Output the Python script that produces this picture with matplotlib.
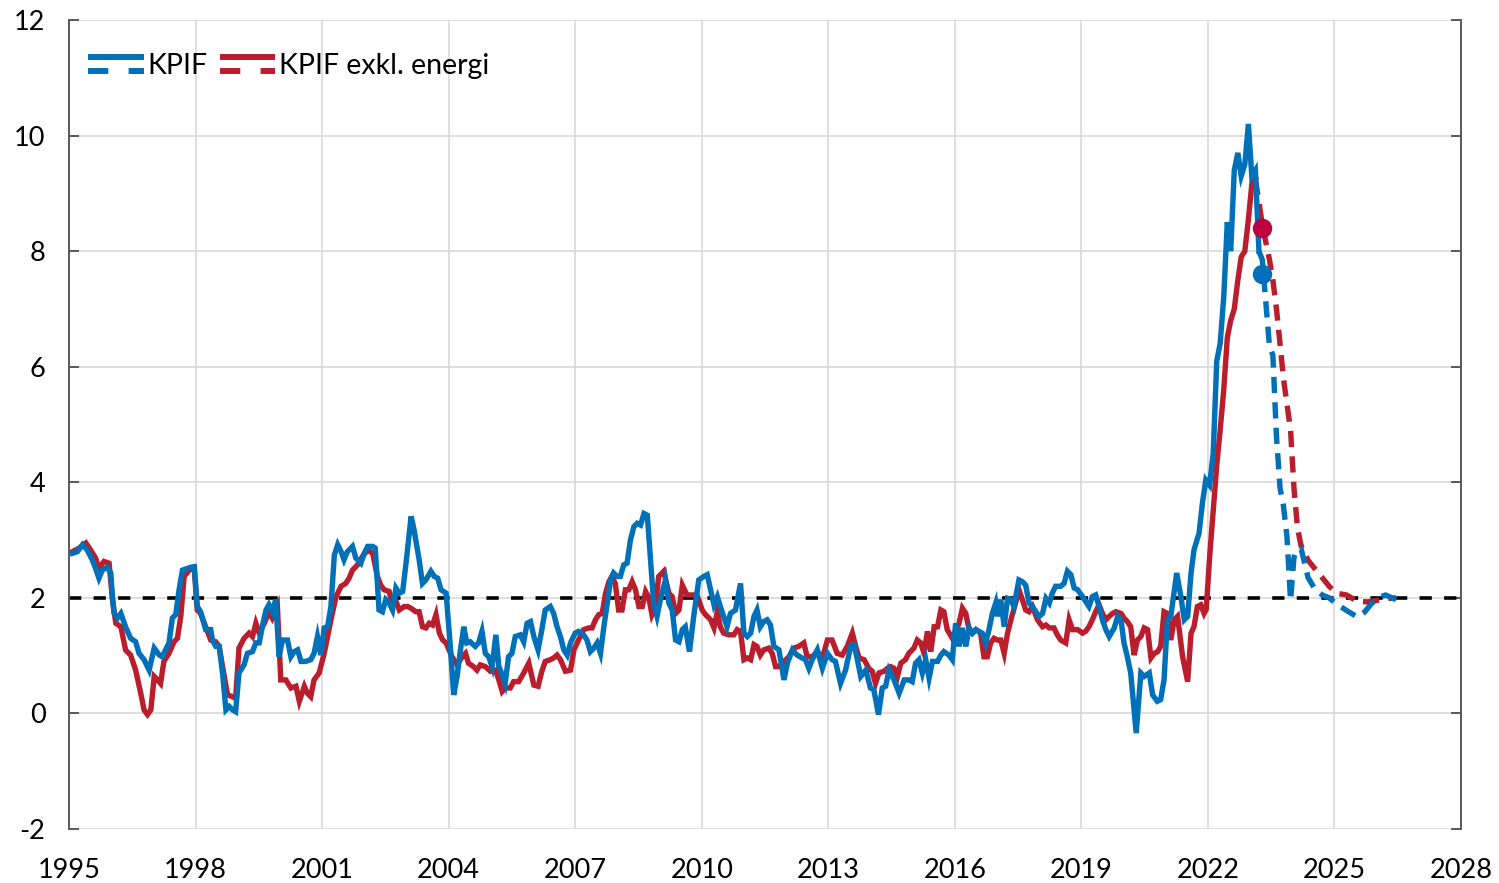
import matplotlib
matplotlib.use("Agg")
import matplotlib.pyplot as plt
from matplotlib.lines import Line2D
from matplotlib.legend_handler import HandlerBase

# ---------------- data ----------------
kpif_years = [
    1995.08, 1995.20, 1995.32, 1995.43, 1995.55, 1995.63, 1995.71, 1995.79, 1995.91, 1995.99,
    1996.03, 1996.07, 1996.15, 1996.23, 1996.34, 1996.46, 1996.58, 1996.66, 1996.78, 1996.90,
    1997.02, 1997.14, 1997.21, 1997.29, 1997.37, 1997.45, 1997.53, 1997.61, 1997.69, 1997.81,
    1997.89, 1997.97, 1998.04, 1998.12, 1998.24, 1998.36, 1998.40, 1998.48, 1998.56, 1998.64,
    1998.72, 1998.80, 1998.88, 1998.95, 1999.03, 1999.15, 1999.23, 1999.35, 1999.43, 1999.51,
    1999.59, 1999.67, 1999.74, 1999.82, 1999.90, 1999.98, 2000.06, 2000.18, 2000.26, 2000.34,
    2000.42, 2000.50, 2000.61, 2000.73, 2000.81, 2000.89, 2000.97, 2001.05, 2001.13, 2001.21,
    2001.29, 2001.37, 2001.45, 2001.52, 2001.60, 2001.72, 2001.80, 2001.92, 2002.00, 2002.08,
    2002.20, 2002.26, 2002.35, 2002.43, 2002.51, 2002.59, 2002.67, 2002.75, 2002.83, 2002.91,
    2002.99, 2003.11, 2003.18, 2003.30, 2003.38, 2003.46, 2003.58, 2003.66, 2003.74, 2003.82,
    2003.94, 2004.04, 2004.12, 2004.20, 2004.28, 2004.36, 2004.43, 2004.51, 2004.63, 2004.71,
    2004.79, 2004.87, 2004.95, 2005.03, 2005.12, 2005.19, 2005.27, 2005.34, 2005.42, 2005.50,
    2005.58, 2005.70, 2005.78, 2005.86, 2005.94, 2006.02, 2006.12, 2006.21, 2006.29, 2006.41,
    2006.49, 2006.57, 2006.65, 2006.73, 2006.81, 2006.89, 2007.00, 2007.08, 2007.20, 2007.28,
    2007.36, 2007.44, 2007.52, 2007.60, 2007.68, 2007.76, 2007.84, 2007.91, 2007.99, 2008.07,
    2008.15, 2008.23, 2008.31, 2008.39, 2008.47, 2008.55, 2008.63, 2008.71, 2008.78, 2008.86,
    2008.94, 2009.02, 2009.14, 2009.22, 2009.30, 2009.38, 2009.46, 2009.54, 2009.61, 2009.71,
    2009.81, 2009.93, 2010.05, 2010.13, 2010.21, 2010.29, 2010.37, 2010.44, 2010.52, 2010.60,
    2010.68, 2010.80, 2010.92, 2011.00, 2011.08, 2011.16, 2011.24, 2011.31, 2011.39, 2011.47,
    2011.55, 2011.63, 2011.71, 2011.83, 2011.95, 2012.03, 2012.15, 2012.26, 2012.38, 2012.46,
    2012.54, 2012.62, 2012.74, 2012.86, 2012.98, 2013.09, 2013.17, 2013.29, 2013.41, 2013.53,
    2013.61, 2013.69, 2013.77, 2013.89, 2014.00, 2014.08, 2014.19, 2014.28, 2014.36, 2014.44,
    2014.56, 2014.68, 2014.80, 2014.91, 2014.99, 2015.07, 2015.15, 2015.23, 2015.31, 2015.39,
    2015.47, 2015.59, 2015.67, 2015.74, 2015.86, 2015.94, 2016.02, 2016.10, 2016.18, 2016.26,
    2016.34, 2016.42, 2016.50, 2016.57, 2016.65, 2016.73, 2016.81, 2016.89, 2016.97, 2017.01,
    2017.09, 2017.17, 2017.25, 2017.33, 2017.40, 2017.52, 2017.60, 2017.68, 2017.76, 2017.84,
    2017.92, 2018.00, 2018.08, 2018.16, 2018.24, 2018.31, 2018.39, 2018.51, 2018.59, 2018.67,
    2018.75, 2018.83, 2018.91, 2019.03, 2019.10, 2019.18, 2019.26, 2019.34, 2019.42, 2019.50,
    2019.58, 2019.66, 2019.78, 2019.86, 2019.94, 2020.01, 2020.09, 2020.17, 2020.30, 2020.41,
    2020.49, 2020.61, 2020.69, 2020.80, 2020.88, 2020.96, 2021.04, 2021.12, 2021.26, 2021.36,
    2021.44, 2021.52, 2021.60, 2021.67, 2021.79, 2021.87, 2021.95, 2022.04, 2022.125, 2022.21,
    2022.29, 2022.375, 2022.46, 2022.54, 2022.625, 2022.71, 2022.79, 2022.875, 2022.96, 2023.04,
    2023.125, 2023.21,
]
kpif_values = [
    2.77, 2.80, 2.92, 2.83, 2.66, 2.51, 2.34, 2.48, 2.53, 2.43,
    2.02, 1.73, 1.65, 1.73, 1.50, 1.30, 1.24, 1.04, 0.93, 0.75,
    1.13, 1.01, 0.98, 1.10, 1.22, 1.65, 1.71, 2.14, 2.48, 2.51,
    2.53, 2.54, 1.85, 1.76, 1.45, 1.45, 1.27, 1.16, 1.16, 0.70,
    0.06, 0.12, 0.06, 0.03, 0.70, 0.84, 1.04, 1.07, 1.22, 1.22,
    1.53, 1.79, 1.88, 1.76, 1.97, 0.98, 1.27, 1.27, 0.98, 1.07,
    1.10, 0.90, 0.90, 0.93, 1.04, 1.33, 1.01, 1.48, 1.50, 1.85,
    2.74, 2.92, 2.80, 2.66, 2.80, 2.89, 2.69, 2.60, 2.77, 2.89,
    2.89, 2.86, 1.79, 1.76, 1.97, 1.91, 1.79, 2.17, 2.08, 2.11,
    2.60, 3.41, 3.18, 2.66, 2.25, 2.31, 2.46, 2.37, 2.34, 2.14,
    2.08, 1.16, 0.32, 0.64, 1.10, 1.50, 1.22, 1.24, 1.16, 1.22,
    1.42, 1.04, 0.98, 0.81, 1.36, 0.81, 0.67, 0.52, 0.98, 1.04,
    1.33, 1.36, 1.24, 1.56, 1.59, 1.33, 1.10, 1.45, 1.79, 1.85,
    1.73, 1.50, 1.33, 1.10, 1.01, 1.22, 1.39, 1.42, 1.36, 1.27,
    1.07, 1.13, 1.22, 1.04, 1.50, 1.91, 2.31, 2.43, 2.37, 2.37,
    2.57, 2.60, 3.00, 3.23, 3.29, 3.26, 3.46, 3.43, 2.72, 1.91,
    1.68, 1.97, 2.31, 1.91, 1.79, 1.27, 1.24, 1.45, 1.50, 1.07,
    1.68, 2.31, 2.37, 2.40, 2.14, 1.88, 2.02, 1.85, 1.68, 1.50,
    1.73, 1.79, 2.25, 1.39, 1.33, 1.39, 1.68, 1.79, 1.50, 1.59,
    1.62, 1.53, 1.16, 1.10, 0.58, 0.87, 1.10, 1.01, 0.96, 0.93,
    0.78, 0.93, 1.10, 0.78, 1.04, 0.93, 0.90, 0.52, 0.75, 1.16,
    1.19, 0.93, 0.64, 0.75, 0.44, 0.41, -0.02, 0.44, 0.47, 0.75,
    0.58, 0.35, 0.58, 0.58, 0.55, 0.87, 0.93, 0.70, 0.93, 0.61,
    0.90, 0.90, 1.01, 1.07, 1.01, 0.93, 1.56, 1.16, 1.48, 1.16,
    1.48, 1.39, 1.45, 1.42, 1.39, 1.22, 1.45, 1.73, 1.91, 1.68,
    1.97, 1.50, 1.99, 1.97, 1.85, 2.31, 2.28, 2.22, 1.91, 1.85,
    1.76, 1.68, 1.73, 1.99, 1.91, 2.08, 2.20, 2.20, 2.25, 2.46,
    2.40, 2.17, 2.14, 2.02, 1.94, 1.85, 2.02, 2.05, 1.85, 1.62,
    1.45, 1.33, 1.48, 1.68, 1.62, 1.22, 0.98, 0.70, -0.34, 0.70,
    0.64, 0.70, 0.32, 0.21, 0.24, 0.58, 1.62, 1.68, 2.43, 2.02,
    1.62, 1.68, 2.43, 2.83, 3.12, 3.64, 4.04, 3.95, 4.50, 6.10,
    6.40, 7.20, 8.50, 8.00, 9.40, 9.70, 9.30, 9.50, 10.20, 9.30,
    9.40, 8.00,
]

kpifxe_years = [
    1995.08, 1995.24, 1995.40, 1995.51, 1995.63, 1995.71, 1995.83, 1995.95, 1996.03, 1996.11,
    1996.23, 1996.34, 1996.46, 1996.58, 1996.70, 1996.78, 1996.86, 1996.94, 1997.02, 1997.10,
    1997.17, 1997.25, 1997.37, 1997.49, 1997.57, 1997.65, 1997.73, 1997.85, 1997.97, 1998.04,
    1998.12, 1998.24, 1998.36, 1998.48, 1998.56, 1998.64, 1998.76, 1998.88, 1998.95, 1999.03,
    1999.15, 1999.27, 1999.35, 1999.43, 1999.51, 1999.63, 1999.74, 1999.82, 1999.94, 2000.02,
    2000.14, 2000.26, 2000.38, 2000.46, 2000.58, 2000.65, 2000.73, 2000.81, 2000.93, 2001.05,
    2001.13, 2001.21, 2001.33, 2001.45, 2001.56, 2001.64, 2001.72, 2001.84, 2001.96, 2002.08,
    2002.20, 2002.31, 2002.39, 2002.47, 2002.59, 2002.67, 2002.75, 2002.83, 2002.95, 2003.03,
    2003.11, 2003.22, 2003.30, 2003.38, 2003.46, 2003.54, 2003.62, 2003.70, 2003.78, 2003.86,
    2003.94, 2004.08, 2004.20, 2004.32, 2004.40, 2004.47, 2004.59, 2004.67, 2004.75, 2004.87,
    2004.99, 2005.11, 2005.19, 2005.27, 2005.34, 2005.46, 2005.54, 2005.66, 2005.78, 2005.90,
    2006.02, 2006.12, 2006.21, 2006.29, 2006.41, 2006.49, 2006.57, 2006.65, 2006.77, 2006.89,
    2006.97, 2007.08, 2007.20, 2007.32, 2007.40, 2007.48, 2007.56, 2007.64, 2007.72, 2007.80,
    2007.87, 2007.95, 2008.03, 2008.11, 2008.19, 2008.27, 2008.35, 2008.43, 2008.51, 2008.59,
    2008.67, 2008.74, 2008.82, 2008.90, 2008.98, 2009.10, 2009.22, 2009.30, 2009.38, 2009.46,
    2009.54, 2009.65, 2009.77, 2009.89, 2010.01, 2010.09, 2010.21, 2010.29, 2010.37, 2010.44,
    2010.52, 2010.64, 2010.76, 2010.84, 2010.92, 2011.00, 2011.08, 2011.16, 2011.24, 2011.31,
    2011.39, 2011.47, 2011.59, 2011.67, 2011.75, 2011.83, 2011.95, 2012.07, 2012.18, 2012.30,
    2012.42, 2012.50, 2012.62, 2012.74, 2012.86, 2012.98, 2013.09, 2013.21, 2013.33, 2013.45,
    2013.57, 2013.65, 2013.73, 2013.85, 2013.96, 2014.04, 2014.12, 2014.20, 2014.32, 2014.40,
    2014.48, 2014.56, 2014.64, 2014.72, 2014.83, 2014.91, 2015.03, 2015.11, 2015.19, 2015.27,
    2015.35, 2015.43, 2015.51, 2015.59, 2015.67, 2015.74, 2015.82, 2015.94, 2016.02, 2016.10,
    2016.18, 2016.26, 2016.34, 2016.42, 2016.50, 2016.61, 2016.69, 2016.77, 2016.85, 2016.93,
    2017.01, 2017.09, 2017.17, 2017.25, 2017.33, 2017.44, 2017.52, 2017.60, 2017.68, 2017.76,
    2017.84, 2017.96, 2018.08, 2018.16, 2018.24, 2018.35, 2018.43, 2018.51, 2018.63, 2018.71,
    2018.79, 2018.91, 2019.03, 2019.10, 2019.18, 2019.26, 2019.34, 2019.42, 2019.50, 2019.58,
    2019.66, 2019.74, 2019.82, 2019.94, 2020.01, 2020.09, 2020.17, 2020.25, 2020.33, 2020.41,
    2020.49, 2020.57, 2020.65, 2020.73, 2020.81, 2020.88, 2020.96, 2021.04, 2021.12, 2021.20,
    2021.28, 2021.40, 2021.52, 2021.60, 2021.67, 2021.75, 2021.83, 2021.91, 2021.96, 2022.04,
    2022.125, 2022.21, 2022.29, 2022.375, 2022.46, 2022.54, 2022.625, 2022.71, 2022.79, 2022.875,
    2022.96, 2023.04, 2023.125,
]
kpifxe_values = [
    2.80, 2.86, 2.95, 2.83, 2.69, 2.51, 2.63, 2.60, 1.97, 1.56,
    1.50, 1.10, 1.01, 0.75, 0.35, 0.06, -0.02, 0.06, 0.64, 0.58,
    0.52, 0.90, 1.04, 1.24, 1.30, 1.68, 2.37, 2.48, 2.51, 1.79,
    1.73, 1.50, 1.27, 1.24, 1.16, 0.81, 0.32, 0.29, 0.26, 1.13,
    1.30, 1.39, 1.33, 1.56, 1.39, 1.56, 1.76, 1.65, 1.85, 0.58,
    0.58, 0.44, 0.47, 0.21, 0.47, 0.35, 0.29, 0.58, 0.70, 1.04,
    1.33, 1.62, 2.02, 2.20, 2.25, 2.34, 2.48, 2.57, 2.72, 2.83,
    2.77, 2.37, 2.22, 2.14, 2.11, 1.88, 1.94, 1.79, 1.85, 1.85,
    1.82, 1.76, 1.76, 1.50, 1.48, 1.56, 1.53, 1.71, 1.39, 1.27,
    1.22, 0.98, 0.84, 0.98, 1.04, 0.87, 0.81, 0.75, 0.84, 0.81,
    0.73, 0.75, 0.58, 0.38, 0.44, 0.44, 0.55, 0.55, 0.70, 0.87,
    0.49, 0.47, 0.73, 0.90, 0.93, 0.96, 1.01, 0.93, 0.73, 0.75,
    1.10, 1.27, 1.45, 1.48, 1.48, 1.62, 1.71, 1.73, 2.08, 2.28,
    2.37, 2.25, 1.79, 1.79, 2.14, 2.14, 2.28, 2.14, 1.85, 1.85,
    2.11, 2.02, 1.71, 1.85, 2.37, 2.46, 2.08, 2.02, 1.73, 1.79,
    2.22, 2.05, 2.05, 2.05, 1.79, 1.71, 1.62, 1.48, 1.76, 1.50,
    1.39, 1.36, 1.36, 1.45, 1.42, 0.93, 0.96, 0.93, 1.19, 1.16,
    1.01, 1.10, 1.13, 1.04, 0.81, 0.81, 0.90, 0.98, 1.13, 1.16,
    1.22, 0.98, 0.98, 1.07, 0.96, 1.27, 1.27, 1.04, 1.01, 1.16,
    1.39, 1.16, 0.96, 0.93, 0.78, 0.73, 0.52, 0.70, 0.73, 0.78,
    0.81, 0.78, 0.64, 0.87, 0.93, 1.04, 1.13, 1.27, 1.22, 1.04,
    1.42, 1.07, 1.50, 1.50, 1.79, 1.76, 1.45, 1.30, 1.42, 1.56,
    1.82, 1.73, 1.45, 1.39, 1.45, 1.39, 0.98, 0.98, 1.22, 1.30,
    1.27, 1.27, 1.04, 1.39, 1.62, 1.91, 2.14, 1.97, 1.79, 1.76,
    1.85, 1.62, 1.50, 1.53, 1.48, 1.48, 1.36, 1.27, 1.22, 1.62,
    1.45, 1.45, 1.39, 1.42, 1.50, 1.62, 1.76, 1.88, 1.73, 1.62,
    1.68, 1.73, 1.76, 1.73, 1.65, 1.59, 1.50, 1.01, 1.27, 1.33,
    1.48, 1.45, 0.96, 1.04, 1.07, 1.16, 1.76, 1.73, 1.27, 1.62,
    1.68, 0.98, 0.55, 1.39, 1.50, 1.85, 1.88, 1.73, 1.80, 2.70,
    3.50, 4.30, 4.90, 5.60, 6.50, 6.80, 7.00, 7.50, 7.90, 8.00,
    8.55, 9.15, 9.25,
]

# Forecasts (dashed)
kpif_fc_years = [2023.21, 2023.29, 2023.375, 2023.46, 2023.54, 2023.625, 2023.71, 2023.79,
                 2023.875, 2023.96, 2024.04, 2024.125, 2024.21, 2024.375, 2024.54, 2024.71,
                 2024.875, 2025.04, 2025.29, 2025.54, 2025.71, 2025.875, 2026.04, 2026.21, 2026.46]
kpif_fc_values = [8.00, 7.85, 7.10, 6.35, 6.20, 4.80, 3.90, 3.60,
                  3.05, 1.95, 2.70, 2.85, 2.85, 2.35, 2.15, 2.05,
                  2.00, 1.90, 1.78, 1.67, 1.75, 1.90, 2.00, 2.05, 1.97]

kpifxe_fc_years = [2023.125, 2023.21, 2023.29, 2023.375, 2023.46, 2023.54, 2023.625, 2023.71,
                   2023.79, 2023.875, 2023.96, 2024.04, 2024.125, 2024.21, 2024.375, 2024.54,
                   2024.71, 2024.875, 2025.04, 2025.29, 2025.54, 2025.79, 2026.04, 2026.29, 2026.46]
kpifxe_fc_values = [9.25, 8.85, 8.45, 8.15, 7.85, 7.50, 7.00, 6.40,
                    5.80, 5.35, 4.90, 3.90, 3.20, 2.90, 2.65, 2.50,
                    2.35, 2.20, 2.08, 2.05, 1.94, 1.93, 1.96, 1.99, 2.00]

# Latest outcome (dots)
outcome_year = 2023.29
kpif_outcome = 7.6
kpifxe_outcome = 8.4

target = 2.0
x_ticks = list(range(1995, 2029, 3))
y_ticks = list(range(-2, 13, 2))
series_labels = ["KPIF", "KPIF exkl. energi"]

# ---------------- style ----------------
BLUE = "#0070B8"
RED = "#BA1E2D"
RED_DOT = "#BE0041"
GRID = "#D9D9D9"
SPINE = "#595959"
LW = 3.9

plt.rcParams['font.family'] = ['Lato', 'DejaVu Sans']

fig = plt.figure(figsize=(14.99, 8.83), dpi=100)
ax = fig.add_axes([69 / 1499, 1 - 829 / 883, (1461 - 69) / 1499, (829 - 20) / 883])

ax.axhline(target, color="black", lw=2.6, linestyle=(0, (3.4, 3.4)), zorder=2)

ax.plot(kpifxe_years, kpifxe_values, color=RED, lw=LW, solid_joinstyle='miter', zorder=3)
ax.plot(kpif_years, kpif_values, color=BLUE, lw=LW, solid_joinstyle='miter', zorder=4)
ax.plot(kpifxe_fc_years, kpifxe_fc_values, color=RED, lw=LW, linestyle=(0, (3.0, 1.7)),
        dash_capstyle='butt', zorder=3)
ax.plot(kpif_fc_years, kpif_fc_values, color=BLUE, lw=LW, linestyle=(0, (3.0, 1.7)),
        dash_capstyle='butt', zorder=4)
ax.plot([outcome_year], [kpifxe_outcome], 'o', color=RED_DOT, ms=13, zorder=5)
ax.plot([outcome_year], [kpif_outcome], 'o', color=BLUE, ms=13, zorder=5)

ax.set_xlim(1995, 2028)
ax.set_ylim(-2, 12)
ax.set_xticks(x_ticks)
ax.set_yticks(y_ticks)
ax.set_xticklabels([str(t) for t in x_ticks])
ax.set_yticklabels([str(t) for t in y_ticks])

ax.set_axisbelow(True)
ax.grid(True, color=GRID, lw=1.2)
for side in ("top", "bottom"):
    ax.spines[side].set_visible(False)
for side in ("left", "right"):
    ax.spines[side].set_color(SPINE)
    ax.spines[side].set_linewidth(1.4)
    ax.spines[side].set_zorder(6)

ax.tick_params(axis='x', length=0, pad=21, labelsize=19.5, labelcolor='black')
ax.tick_params(axis='y', direction='in', left=True, right=True, length=7, width=1.4,
               color=SPINE, pad=17, labelsize=19.5, labelcolor='black')


class SolidOverDash(HandlerBase):
    def create_artists(self, legend, orig_handle, xdescent, ydescent, width, height,
                       fontsize, trans):
        color = orig_handle.get_color()
        lw = orig_handle.get_linewidth()
        x0, x1 = -xdescent, -xdescent + width
        yc = -ydescent + height / 2
        off = height * 0.33
        top = Line2D([x0, x1], [yc + off, yc + off], color=color, lw=lw,
                     solid_capstyle='butt')
        bot = Line2D([x0, x1], [yc - off, yc - off], color=color, lw=lw,
                     linestyle=(0, (3.4, 3.4)), dash_capstyle='butt')
        top.set_transform(trans)
        bot.set_transform(trans)
        return [top, bot]


handles = [Line2D([], [], color=BLUE, lw=4.3), Line2D([], [], color=RED, lw=4.3)]
leg = ax.legend(handles, series_labels, handler_map={Line2D: SolidOverDash()},
                loc='upper left', bbox_to_anchor=(19 / 1392, 1 - 33 / 809),
                ncol=2, frameon=False, fontsize=20.5, handlelength=1.95,
                handletextpad=0.12, columnspacing=0.45, borderpad=0, borderaxespad=0)

fig.savefig("out.png", dpi=100)
